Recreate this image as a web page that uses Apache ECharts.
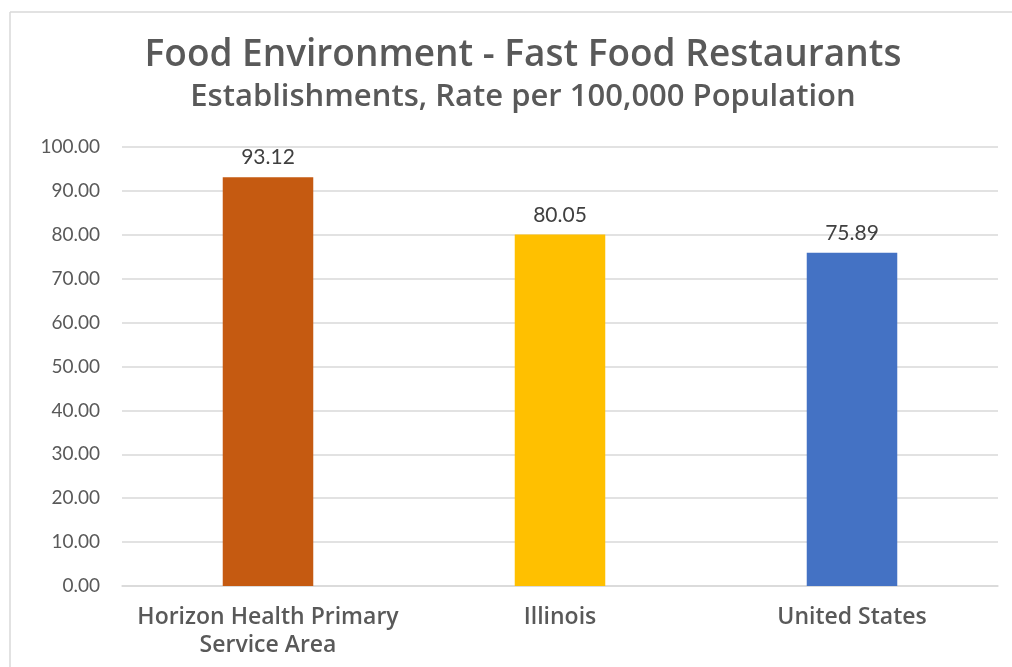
<!DOCTYPE html>
<html>
<head>
<meta charset="utf-8">
<script src="https://cdn.jsdelivr.net/npm/echarts@6/dist/echarts.min.js"></script>
<style>
  html, body { margin: 0; padding: 0; background: #fff; }
  #chart { width: 1012px; height: 667px; }
</style>
</head>
<body>
<div id="chart"></div>
<script>
const categories = ['Horizon Health Primary\nService Area', 'Illinois', 'United States']
const values = [93.12, 80.05, 75.89]
const barColors = ['#C55A11', '#FFC000', '#4472C4']
const font = 'Lato, "Open Sans", sans-serif'
const wideFont = '"Open Sans", Lato, sans-serif'
const textColor = '#595959'

const chart = echarts.init(document.getElementById('chart'))
chart.setOption({
  animation: false,
  title: {
    text: 'Food Environment - Fast Food Restaurants',
    subtext: 'Establishments, Rate per 100,000 Population',
    left: 518,
    textAlign: 'center',
    top: 32,
    itemGap: 8,
    textStyle: { fontFamily: wideFont, fontSize: 37, fontWeight: 600, color: textColor },
    subtextStyle: { fontFamily: wideFont, fontSize: 31, fontWeight: 600, color: textColor }
  },
  graphic: [
    { type: 'line', shape: { x1: 10, y1: 12, x2: 1012, y2: 12 }, style: { stroke: '#d9d9d9', lineWidth: 1.5 } },
    { type: 'line', shape: { x1: 10, y1: 12, x2: 10, y2: 667 }, style: { stroke: '#d9d9d9', lineWidth: 1.5 } }
  ],
  grid: { left: 122, right: 14, top: 147, bottom: 81 },
  xAxis: {
    type: 'category',
    data: categories,
    axisLine: { lineStyle: { color: '#d9d9d9', width: 1.5 } },
    axisTick: { show: false },
    axisLabel: {
      interval: 0,
      hideOverlap: false,
      fontFamily: wideFont, fontSize: 23, fontWeight: 600, color: textColor, lineHeight: 28, margin: 17
    }
  },
  yAxis: {
    type: 'value',
    min: 0,
    max: 100,
    interval: 10,
    axisLine: { show: false },
    axisTick: { show: false },
    splitLine: { lineStyle: { color: '#d9d9d9', width: 1.5 } },
    axisLabel: {
      fontFamily: font, fontSize: 19, color: textColor, margin: 22,
      formatter: v => v.toFixed(2)
    }
  },
  series: [{
    type: 'bar',
    barWidth: '31%',
    data: values.map((v, i) => ({ value: v, itemStyle: { color: barColors[i] } })),
    label: {
      show: true,
      position: 'top',
      distance: 9,
      fontFamily: font,
      fontSize: 21,
      color: '#404040',
      formatter: p => p.value.toFixed(2)
    }
  }]
})
</script>
</body>
</html>
